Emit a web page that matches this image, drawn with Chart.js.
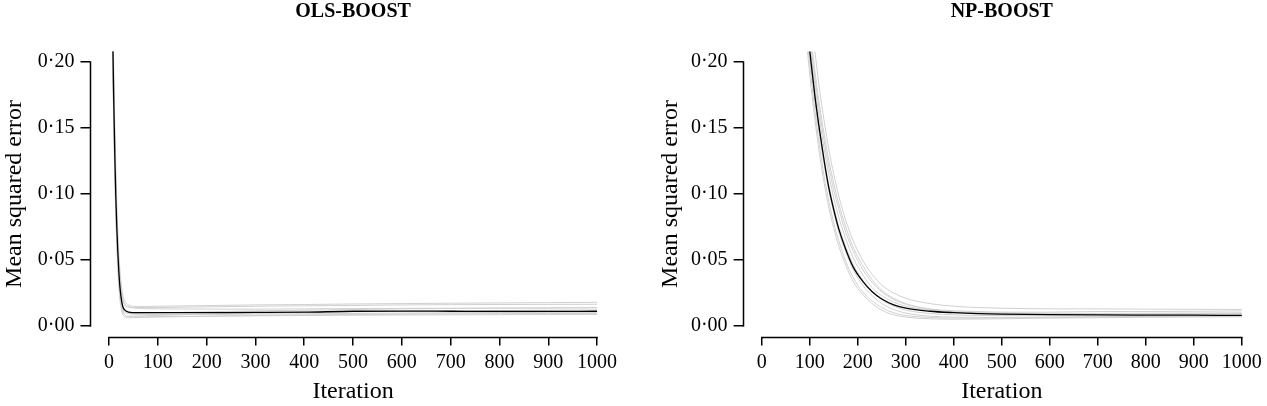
<!DOCTYPE html>
<html>
<head>
<meta charset="utf-8">
<script src="https://cdn.jsdelivr.net/npm/chart.js@4/dist/chart.umd.min.js"></script>
<style>
  html, body { margin: 0; padding: 0; background: #fff; }
  #wrap { position: relative; width: 1267px; height: 406px; }
  #c1 { position: absolute; left: 0; top: 0; }
  #c2 { position: absolute; left: 633px; top: 0; }
</style>
</head>
<body>
<div id="wrap">
  <canvas id="c1" width="633" height="406"></canvas>
  <canvas id="c2" width="634" height="406"></canvas>
</div>
<script>
// ---------- Data ----------
const panelTitles = ['OLS-BOOST', 'NP-BOOST'];
const xTickValues = [0, 100, 200, 300, 400, 500, 600, 700, 800, 900, 1000];
const yTickValues = [0, 0.05, 0.10, 0.15, 0.20];

// OLS-BOOST iterations
const olsIter = [1, 5, 8, 10, 12, 14, 16, 18, 20, 22, 25, 28, 32, 40, 50, 75, 100, 200, 300, 400, 500, 600, 700, 800, 900, 1000];
const olsMean = [0.6, 0.33, 0.21, 0.165, 0.127, 0.097, 0.074, 0.056, 0.042, 0.031, 0.021, 0.015, 0.0122, 0.0106, 0.0102, 0.0101, 0.0101, 0.0102, 0.0103, 0.0105, 0.0112, 0.0113, 0.0112, 0.0111, 0.0111, 0.0112];
const olsRun1 = [0.62, 0.36, 0.235, 0.19, 0.15, 0.118, 0.092, 0.072, 0.056, 0.044, 0.032, 0.024, 0.019, 0.016, 0.015, 0.0148, 0.015, 0.0155, 0.016, 0.0163, 0.0167, 0.017, 0.0173, 0.0175, 0.0177, 0.018];
const olsRun2 = [0.6, 0.34, 0.22, 0.175, 0.137, 0.106, 0.082, 0.063, 0.048, 0.037, 0.027, 0.02, 0.016, 0.0142, 0.014, 0.0139, 0.014, 0.0145, 0.015, 0.0153, 0.0156, 0.016, 0.0162, 0.0163, 0.0164, 0.0165];
const olsRun3 = [0.58, 0.32, 0.2, 0.158, 0.121, 0.092, 0.069, 0.051, 0.038, 0.028, 0.019, 0.013, 0.0105, 0.0095, 0.0095, 0.0098, 0.01, 0.0108, 0.0115, 0.012, 0.0125, 0.013, 0.0133, 0.0135, 0.0137, 0.014];
const olsRun4 = [0.57, 0.31, 0.195, 0.152, 0.115, 0.086, 0.064, 0.047, 0.034, 0.024, 0.016, 0.011, 0.0085, 0.0075, 0.0075, 0.0078, 0.008, 0.009, 0.0097, 0.0103, 0.0108, 0.0112, 0.0115, 0.0118, 0.012, 0.0122];
const olsRun5 = [0.56, 0.3, 0.19, 0.147, 0.11, 0.082, 0.06, 0.043, 0.031, 0.021, 0.013, 0.009, 0.0068, 0.0062, 0.0063, 0.0066, 0.0068, 0.0075, 0.008, 0.0085, 0.0088, 0.009, 0.0092, 0.0094, 0.0095, 0.0096];
const olsRun6 = [0.59, 0.33, 0.205, 0.162, 0.125, 0.095, 0.072, 0.054, 0.04, 0.03, 0.02, 0.014, 0.011, 0.0095, 0.009, 0.0088, 0.0087, 0.0088, 0.009, 0.0092, 0.0095, 0.0098, 0.01, 0.0102, 0.0104, 0.0105];
const olsRun7 = [0.61, 0.35, 0.225, 0.18, 0.141, 0.109, 0.084, 0.065, 0.05, 0.038, 0.028, 0.021, 0.0168, 0.0148, 0.0138, 0.0132, 0.013, 0.0128, 0.0128, 0.013, 0.0132, 0.0134, 0.0135, 0.0136, 0.0137, 0.0138];
const olsRun8 = [0.575, 0.315, 0.198, 0.155, 0.118, 0.089, 0.066, 0.049, 0.036, 0.026, 0.017, 0.0115, 0.0085, 0.0072, 0.007, 0.007, 0.0071, 0.0074, 0.0077, 0.008, 0.0082, 0.0084, 0.0085, 0.0086, 0.0087, 0.0088];

// NP-BOOST iterations
const npIter = [90, 100, 110, 120, 130, 140, 150, 160, 175, 190, 210, 230, 250, 275, 300, 350, 400, 450, 500, 600, 700, 800, 900, 1000];
const npMean = [0.245, 0.208, 0.176, 0.149, 0.125, 0.104, 0.088, 0.074, 0.058, 0.045, 0.034, 0.026, 0.0205, 0.016, 0.0135, 0.0112, 0.0101, 0.0094, 0.009, 0.0086, 0.0084, 0.0083, 0.0082, 0.0081];
const npRun1 = [0.28, 0.24, 0.21, 0.18, 0.155, 0.133, 0.115, 0.099, 0.08, 0.065, 0.05, 0.039, 0.031, 0.025, 0.021, 0.017, 0.015, 0.014, 0.0135, 0.013, 0.013, 0.0128, 0.0127, 0.0126];
const npRun2 = [0.26, 0.222, 0.19, 0.163, 0.14, 0.12, 0.103, 0.089, 0.071, 0.057, 0.043, 0.033, 0.026, 0.02, 0.0165, 0.013, 0.0115, 0.011, 0.0105, 0.0105, 0.011, 0.011, 0.0112, 0.0115];
const npRun3 = [0.25, 0.21, 0.178, 0.15, 0.126, 0.106, 0.09, 0.076, 0.06, 0.047, 0.035, 0.026, 0.02, 0.015, 0.012, 0.0095, 0.0085, 0.008, 0.008, 0.0082, 0.0085, 0.009, 0.0092, 0.0095];
const npRun4 = [0.235, 0.198, 0.165, 0.137, 0.113, 0.094, 0.078, 0.065, 0.049, 0.037, 0.026, 0.019, 0.014, 0.01, 0.008, 0.0065, 0.006, 0.006, 0.0062, 0.0065, 0.007, 0.0072, 0.0075, 0.0078];
const npRun5 = [0.228, 0.19, 0.158, 0.131, 0.108, 0.089, 0.074, 0.061, 0.046, 0.034, 0.024, 0.017, 0.012, 0.0085, 0.0068, 0.0055, 0.0052, 0.0053, 0.0055, 0.006, 0.0063, 0.0066, 0.0068, 0.007];
const npRun6 = [0.25, 0.215, 0.184, 0.157, 0.134, 0.114, 0.097, 0.083, 0.066, 0.052, 0.039, 0.029, 0.023, 0.018, 0.015, 0.012, 0.0108, 0.0102, 0.0098, 0.0096, 0.0096, 0.0097, 0.0098, 0.01];
const npRun7 = [0.24, 0.203, 0.172, 0.145, 0.122, 0.102, 0.086, 0.072, 0.056, 0.043, 0.031, 0.023, 0.017, 0.0125, 0.0098, 0.0075, 0.0068, 0.0066, 0.0066, 0.0068, 0.007, 0.0072, 0.0074, 0.0076];
const npRun8 = [0.262, 0.226, 0.195, 0.168, 0.145, 0.125, 0.108, 0.093, 0.075, 0.06, 0.046, 0.035, 0.027, 0.021, 0.017, 0.0125, 0.0105, 0.0095, 0.009, 0.0088, 0.0088, 0.0089, 0.009, 0.0091];

// ---------- Chart helpers ----------
const FONT = "'Liberation Serif', 'Times New Roman', serif";
const GRAY = 'rgb(208,208,208)';

function pts(xs, ys) { return xs.map((x, i) => ({ x: x, y: ys[i] })); }

function makeDatasets(xs, mean, runs) {
  const ds = [{
    data: pts(xs, mean), borderColor: '#000', borderWidth: 1.3,
    pointRadius: 0, cubicInterpolationMode: 'monotone', fill: false
  }];
  runs.forEach(r => ds.push({
    data: pts(xs, r), borderColor: GRAY, borderWidth: 1,
    pointRadius: 0, cubicInterpolationMode: 'monotone', fill: false
  }));
  return ds;
}

const detachedAxes = {
  id: 'detachedAxes',
  afterDraw(chart) {
    const ctx = chart.ctx, ca = chart.chartArea;
    const xs = chart.scales.x, ys = chart.scales.y;
    ctx.save();
    ctx.strokeStyle = '#000';
    ctx.lineWidth = 1.5;
    ctx.lineCap = 'butt';
    const lx = Math.round(ca.left) + 0.5;
    ctx.beginPath();
    ctx.moveTo(lx, ys.getPixelForValue(yTickValues[0]) + 0.75);
    ctx.lineTo(lx, ys.getPixelForValue(yTickValues[yTickValues.length - 1]) - 0.75);
    ctx.stroke();
    const by = Math.round(ca.bottom) + 0.5;
    ctx.beginPath();
    ctx.moveTo(xs.getPixelForValue(xTickValues[0]) - 0.75, by);
    ctx.lineTo(xs.getPixelForValue(xTickValues[xTickValues.length - 1]) + 0.75, by);
    ctx.stroke();
    ctx.restore();
  }
};

function makeChart(canvasId, title, datasets, yAxisWidth, padRight, yTitlePad) {
  return new Chart(document.getElementById(canvasId), {
    type: 'line',
    data: { datasets: datasets },
    plugins: [detachedAxes],
    options: {
      responsive: false,
      animation: false,
      events: [],
      layout: { padding: { left: 0, right: padRight, top: 0, bottom: 0 } },
      plugins: {
        legend: { display: false },
        tooltip: { enabled: false },
        title: {
          display: true, text: title, fullSize: false,
          color: '#000',
          font: { family: FONT, size: 20, weight: 'bold', lineHeight: 1.2 },
          padding: { top: 0, bottom: 27.4 }
        }
      },
      scales: {
        x: {
          type: 'linear', min: -40, max: 1040,
          afterBuildTicks: s => { s.ticks = xTickValues.map(v => ({ value: v })); },
          afterFit: s => { s.height = 69.4; },
          border: { display: false },
          grid: { display: true, drawOnChartArea: false, drawTicks: true, tickLength: 9, color: '#000', lineWidth: 1.5 },
          ticks: {
            color: '#000', padding: 5, maxRotation: 0, autoSkip: false,
            font: { family: FONT, size: 20 },
            callback: v => String(v)
          },
          title: {
            display: true, text: 'Iteration', color: '#000',
            font: { family: FONT, size: 24, lineHeight: 1.2 },
            padding: { top: 0, bottom: 0 }
          }
        },
        y: {
          type: 'linear', min: -0.008, max: 0.208,
          afterBuildTicks: s => { s.ticks = yTickValues.map(v => ({ value: v })); },
          afterFit: s => { s.width = yAxisWidth; },
          border: { display: false },
          grid: { display: true, drawOnChartArea: false, drawTicks: true, tickLength: 9, color: '#000', lineWidth: 1.5 },
          ticks: {
            color: '#000', padding: 6, autoSkip: false,
            font: { family: FONT, size: 20 },
            callback: v => v.toFixed(2).replace('.', '\u00B7')
          },
          title: {
            display: true, text: 'Mean squared error', color: '#000',
            font: { family: FONT, size: 24, lineHeight: 1.2 },
            padding: { top: yTitlePad, bottom: 0 }
          }
        }
      }
    }
  });
}

makeChart('c1', panelTitles[0],
  makeDatasets(olsIter, olsMean, [olsRun1, olsRun2, olsRun3, olsRun4, olsRun5, olsRun6, olsRun7, olsRun8]),
  89.5, 16.4, 0.6);
makeChart('c2', panelTitles[1],
  makeDatasets(npIter, npMean, [npRun1, npRun2, npRun3, npRun4, npRun5, npRun6, npRun7, npRun8]),
  109.6, 0.6, 23.6);
</script>
</body>
</html>
